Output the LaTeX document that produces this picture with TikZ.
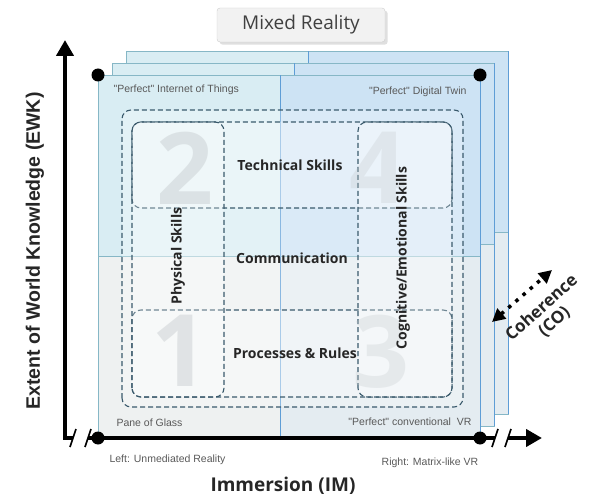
\documentclass[tikz,border=0pt]{standalone}
\usepackage{fontspec}
\setmainfont{Open Sans}
\newfontfamily\arialfont{Liberation Sans}
\usetikzlibrary{positioning,calc,arrows.meta,shadows}

\definecolor{tlfill}{HTML}{D9EDF3}
\definecolor{trfill}{HTML}{CDE3F4}
\definecolor{blfill}{HTML}{EEF1F1}
\definecolor{brfill}{HTML}{E4ECF1}
\definecolor{paneledge}{HTML}{86B7C6}
\definecolor{bluedge}{HTML}{5E9DD6}
\definecolor{dashcol}{HTML}{3A5A6C}
\definecolor{numcol}{HTML}{C4CACD}

\begin{document}
\begin{tikzpicture}[x=1pt,y=1pt,
  panel/.style={draw=paneledge,line width=0.8pt},
  band/.style={draw=dashcol,line width=1.1pt,rounded corners=9pt,
    dash pattern=on 5pt off 3pt,fill=white,fill opacity=0.28},
  skill/.style={font=\bfseries\fontsize{14}{16}\selectfont,text=black!85},
  small/.style={font=\arialfont\fontsize{10.5}{12}\selectfont,text=black!65},
  numeral/.style={font=\bfseries\fontsize{100}{100}\selectfont,text=numcol,text opacity=0.45},
  axis/.style={line width=4.5pt,line join=miter},
  bigtip/.tip={Triangle[length=16pt,width=17pt]}]
\useasboundingbox (0,0) rectangle (613,496);

% stacked panels, back to front
\foreach \k in {2,1,0} {
  \pgfmathsetmacro{\dx}{14*\k}
  \pgfmathsetmacro{\dy}{12*\k}
  \fill[tlfill] ({98+\dx},{240+\dy}) rectangle ({280+\dx},{421+\dy});
  \fill[trfill] ({280+\dx},{240+\dy}) rectangle ({480+\dx},{421+\dy});
  \fill[blfill] ({98+\dx},{58+\dy}) rectangle ({280+\dx},{240+\dy});
  \fill[brfill] ({280+\dx},{58+\dy}) rectangle ({480+\dx},{240+\dy});
  \draw[panel] ({98+\dx},{240+\dy}) -- ({480+\dx},{240+\dy});
  \draw[panel] ({98+\dx},{58+\dy}) rectangle ({480+\dx},{421+\dy});
  \draw[bluedge,line width=1pt] ({280+\dx},{58+\dy}) -- ({280+\dx},{421+\dy});
  \draw[bluedge,line width=1pt] ({480+\dx},{58+\dy}) -- ({480+\dx},{421+\dy});
}

% skill bands
\draw[band] (122,89) rectangle (463,386);
\draw[band] (132,288) rectangle (452,374);
\draw[band] (132,99) rectangle (452,186);
\draw[band] (132,99) rectangle (224,374);
\draw[band] (358,99) rectangle (452,374);

% quadrant numbers
\node[numeral] (q2) at (185,328) {2};
\node[numeral,text opacity=0.3] (q4) at (378,328) {4};
\node[numeral] (q1) at (180,145) {1};
\node[numeral,text opacity=0.3] (q3) at (381,144) {3};

\node[skill] (tech) at (290,331) {Technical Skills};
\node[skill] (comm) at (292,238) {Communication};
\node[skill] (proc) at (295,143) {Processes \& Rules};
\node[skill,rotate=90] (phys) at (178,240) {Physical Skills};
\node[skill,rotate=90] (cogn) at (403,238) {Cognitive/Emotional Skills};

% corner labels
\node[small,anchor=west] (iot) at (110,406) {"Perfect" Internet of Things};
\node[small,anchor=east] (twin) at (470,404) {"Perfect" Digital Twin};
\node[small,anchor=west] (pane) at (113,73) {Pane of Glass};
\node[small,anchor=east] (cvr) at (475,74) {"Perfect" conventional\ \ VR};

% axes
\coordinate (O) at (65,58);
\coordinate (ytip) at (65,456);
\coordinate (brkA) at (73,58);
\coordinate (brkB) at (88,58);
\coordinate (brkC) at (495,58);
\coordinate (brkD) at (508,58);
\coordinate (xtip) at (542,58);
\draw[axis,-bigtip] (brkA) -- (O) -- (ytip);
\draw[axis] (brkB) -- (brkC);
\draw[axis,-bigtip] (brkD) -- (xtip);
\foreach \bx in {73,88,495,508}
  \draw[line width=1.6pt] (\bx-3,49) -- (\bx+3,67);

% corner dots
\foreach \cx/\cy in {98/58,480/58,98/421,480/421}
  \fill (\cx,\cy) circle (6.5pt);

\node[small,anchor=west] (left) at (106,36) {Left: Unmediated Reality};
\node[small] (right) at (430,33) {Right: Matrix-like VR};
\node[font=\bfseries\fontsize{19}{21}\selectfont,text=black!85] (im) at (283,10) {Immersion (IM)};
\node[font=\arialfont\bfseries\fontsize{19.5}{21}\selectfont,text=black!85,rotate=90] (ewk) at (35,245) {Extent of World Knowledge (EWK)};

% mixed reality tag
\node[draw=black!20,fill=black!5,rounded corners=3pt,drop shadow={opacity=0.25},
  minimum width=168pt,minimum height=34pt,text=black!75,
  font=\fontsize{19}{21}\selectfont] (mr) at (301,471) {Mixed Reality};

% coherence
\coordinate (coA) at (492,174);
\coordinate (coB) at (552,226);
\draw[line width=3.5pt,dash pattern=on 3.5pt off 6pt,
  {Triangle[length=13pt,width=13pt]}-{Triangle[length=13pt,width=13pt]}] (coA) -- (coB);
\node[font=\bfseries\fontsize{17}{19}\selectfont,text=black!85,rotate=42,align=center] (co) at (548,181) {Coherence\\(CO)};
\end{tikzpicture}
\end{document}
